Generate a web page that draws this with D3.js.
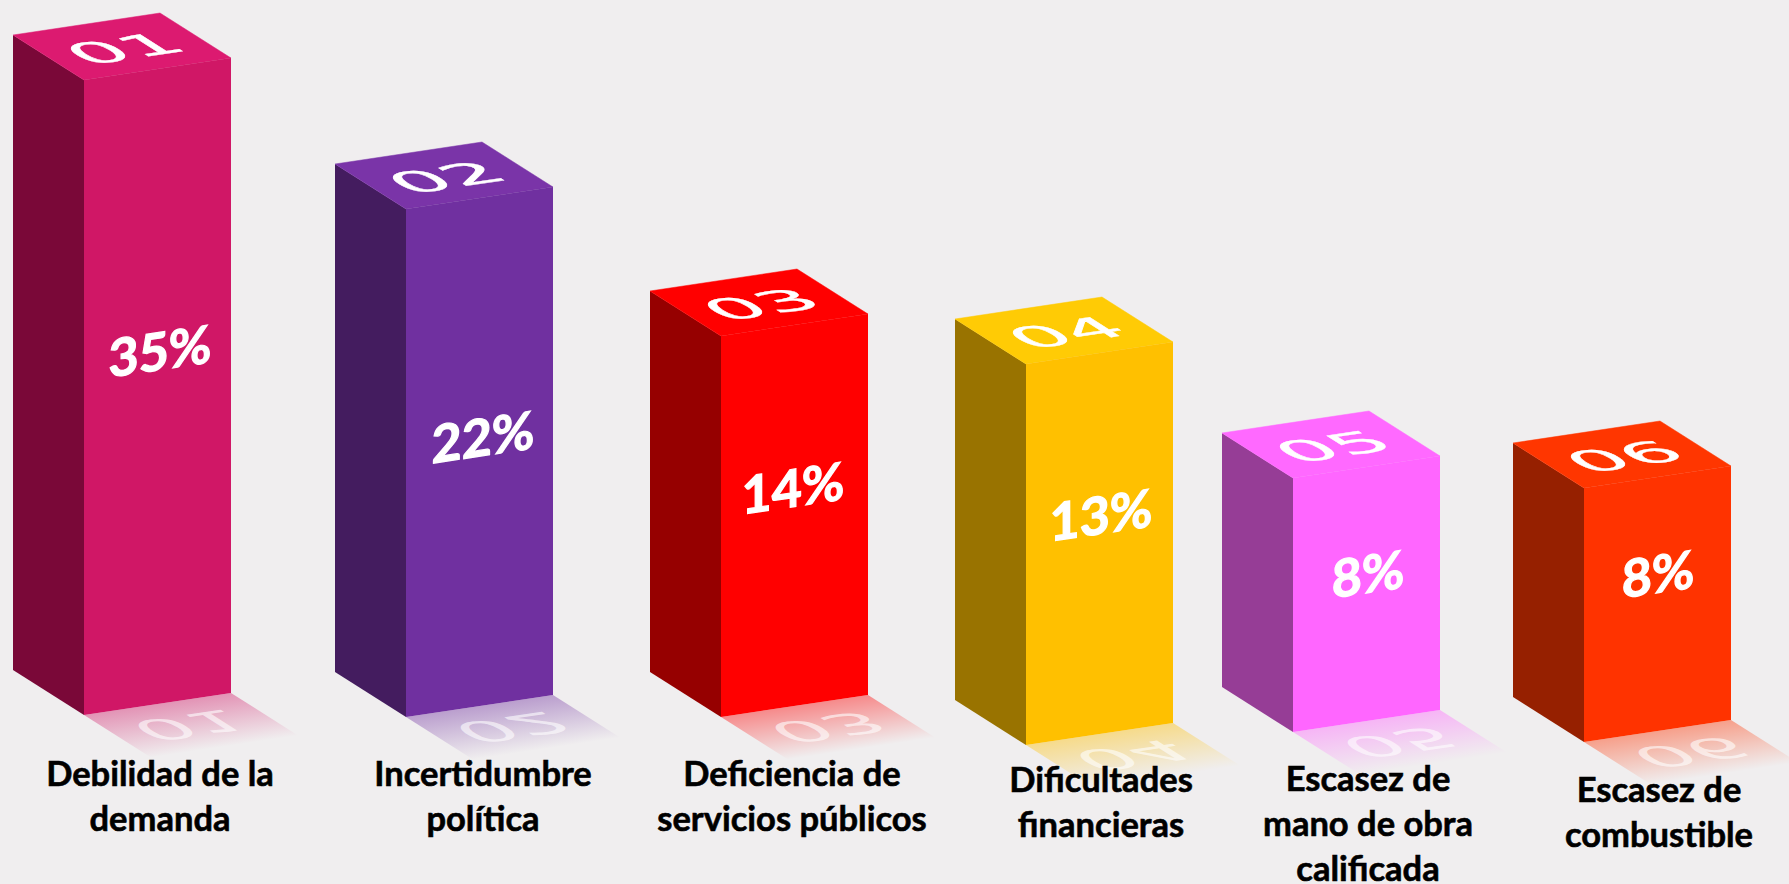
<!DOCTYPE html>
<html>
<head>
<meta charset="utf-8">
<script src="https://cdn.jsdelivr.net/npm/d3@7"></script>
<style>
html, body { margin: 0; padding: 0; background: #f0eeef; overflow: hidden; }
svg { display: block; }
</style>
</head>
<body>
<div id="content"></div>
<script>
var ids = ['01', '02', '03', '04', '05', '06'];
var categories = [
    'Debilidad de la|demanda',
    'Incertidumbre|política',
    'Deficiencia de|servicios públicos',
    'Dificultades|financieras',
    'Escasez de|mano de obra|calificada',
    'Escasez de|combustible'
];
var values = [35, 22, 14, 13, 8, 8];
var frontColors = ['#d01766', '#7030a0', '#ff0000', '#ffc000', '#ff66ff', '#ff3300'];
var topColors = ['#dc1a70', '#7a34a8', '#ff0000', '#ffcb05', '#ff69ff', '#ff3600'];
var sideColors = ['#7a0838', '#441c5f', '#960000', '#997300', '#963d96', '#962000'];

var width = 1789, height = 884;
var depthX = 71, depthY = 45, faceW = 147, faceRise = 22;

var svg = d3.select('#content')
    .append('svg')
    .attr('width', width).attr('height', height);

svg.append('rect').attr('width', width).attr('height', height).attr('fill', '#f0eeef');

// the bars in the picture are stepped, not proportional, so the scale has knots
var barHeight = d3.scaleLinear()
    .domain([8, 13, 14, 22, 35])
    .range([254, 381, 381, 508, 635]);

var frontX = d3.scaleOrdinal().domain(ids).range([84, 406, 721, 1026, 1293, 1584]);
var baseY = d3.scaleOrdinal().domain(ids).range([715, 717, 717, 745, 732, 742]);
var pctX = d3.scaleOrdinal().domain(ids).range([160, 483, 793, 1101, 1368, 1658]);
var pctY = d3.scaleOrdinal().domain(ids).range([351, 437, 488, 515, 574, 574]);
var catX = d3.scaleOrdinal().domain(ids).range([160, 483, 792, 1101, 1368, 1659]);
var catY = d3.scaleOrdinal().domain(ids).range([786, 786, 786, 792, 791, 802]);

var rows = d3.zip(ids, categories, values, frontColors, topColors, sideColors).map(function(r) {
    return { id: r[0], lines: r[1].split('|'), value: r[2], front: r[3], top: r[4], side: r[5] };
});

var line = d3.line();
var defs = svg.append('defs');

var nx = faceRise / Math.hypot(faceW, faceRise), ny = faceW / Math.hypot(faceW, faceRise);

var grad = defs.selectAll('linearGradient')
    .data(rows)
    .enter().append('linearGradient')
    .attr('id', function(d) { return 'fade' + d.id; })
    .attr('gradientUnits', 'userSpaceOnUse')
    .attr('x1', function(d) { return frontX(d.id) + faceW / 2; })
    .attr('y1', function(d) { return baseY(d.id) - faceRise / 2; })
    .attr('x2', function(d) { return frontX(d.id) + faceW / 2 + nx * 52; })
    .attr('y2', function(d) { return baseY(d.id) - faceRise / 2 + ny * 52; });
grad.append('stop').attr('offset', 0).attr('stop-color', function(d) { return d.front; }).attr('stop-opacity', 0.42);
grad.append('stop').attr('offset', 1).attr('stop-color', function(d) { return d.front; }).attr('stop-opacity', 0);

var bar = svg.selectAll('g.bar')
    .data(rows)
    .enter().append('g')
    .attr('class', 'bar');

// reflection on the floor
bar.append('path')
    .attr('fill', function(d) { return 'url(#fade' + d.id + ')'; })
    .attr('d', function(d) {
        var x = frontX(d.id), y = baseY(d.id);
        return line([[x, y], [x + faceW, y - faceRise], [x + faceW + depthX, y - faceRise + depthY], [x + depthX, y + depthY]]) + 'Z';
    });

bar.append('text')
    .attr('class', 'mirror')
    .attr('transform', function(d) {
        var cx = frontX(d.id) + faceW / 2 + depthX / 2 - 2;
        var cy = baseY(d.id) - faceRise / 2 + depthY / 2 - 1;
        return 'matrix(2.7,-0.4,-1.35,-0.86,' + cx + ',' + cy + ')';
    })
    .attr('text-anchor', 'middle')
    .attr('dy', '0.36em')
    .attr('font-family', 'DejaVu Sans')
    .attr('font-size', 30)
    .attr('fill', '#fff')
    .attr('fill-opacity', 0.6)
    .text(function(d) { return d.id; });

// left side
bar.append('path')
    .attr('fill', function(d) { return d.side; })
    .attr('d', function(d) {
        var x = frontX(d.id), y = baseY(d.id), h = barHeight(d.value);
        return line([[x - depthX, y - h - depthY], [x, y - h], [x, y], [x - depthX, y - depthY]]) + 'Z';
    });

// top
bar.append('path')
    .attr('fill', function(d) { return d.top; })
    .attr('stroke', function(d) { return d.top; })
    .attr('stroke-width', 0.5)
    .attr('d', function(d) {
        var x = frontX(d.id), y = baseY(d.id) - barHeight(d.value);
        return line([[x, y], [x + faceW, y - faceRise], [x + faceW - depthX, y - faceRise - depthY], [x - depthX, y - depthY]]) + 'Z';
    });

// front
bar.append('path')
    .attr('fill', function(d) { return d.front; })
    .attr('d', function(d) {
        var x = frontX(d.id), y = baseY(d.id), h = barHeight(d.value);
        return line([[x, y - h], [x + faceW, y - h - faceRise], [x + faceW, y - faceRise], [x, y]]) + 'Z';
    });

bar.append('text')
    .attr('class', 'num')
    .attr('transform', function(d) {
        var cx = frontX(d.id) + faceW / 2 - depthX / 2 + 2;
        var cy = baseY(d.id) - barHeight(d.value) - faceRise / 2 - depthY / 2 + 2;
        return 'matrix(2.7,-0.4,1.35,0.86,' + cx + ',' + cy + ')';
    })
    .attr('text-anchor', 'middle')
    .attr('dy', '0.36em')
    .attr('font-family', 'DejaVu Sans')
    .attr('font-size', 30)
    .attr('fill', '#fff')
    .attr('stroke', '#fff')
    .attr('stroke-width', 0.3)
    .text(function(d) { return d.id; });

bar.append('text')
    .attr('class', 'pct')
    .attr('transform', function(d) { return 'matrix(1,-0.15,0,1,' + pctX(d.id) + ',' + pctY(d.id) + ')'; })
    .attr('text-anchor', 'middle')
    .attr('dy', '0.36em')
    .attr('font-family', 'Lato')
    .attr('font-weight', 700)
    .attr('font-size', 52)
    .attr('fill', '#fff')
    .attr('stroke', '#fff')
    .attr('stroke-width', 1.2)
    .text(function(d) { return d.value + '%'; });

bar.append('text')
    .attr('class', 'cat')
    .attr('font-family', 'Lato')
    .attr('font-weight', 700)
    .attr('font-size', 34.5)
    .attr('fill', '#000')
    .attr('stroke', '#000')
    .attr('stroke-width', 0.6)
    .attr('text-anchor', 'middle')
    .selectAll('tspan')
    .data(function(d) {
        return d.lines.map(function(t, i) { return { id: d.id, text: t, i: i }; });
    })
    .enter().append('tspan')
    .attr('x', function(d) { return catX(d.id); })
    .attr('y', function(d) { return catY(d.id) + d.i * 45; })
    .text(function(d) { return d.text; });
</script>
</body>
</html>
